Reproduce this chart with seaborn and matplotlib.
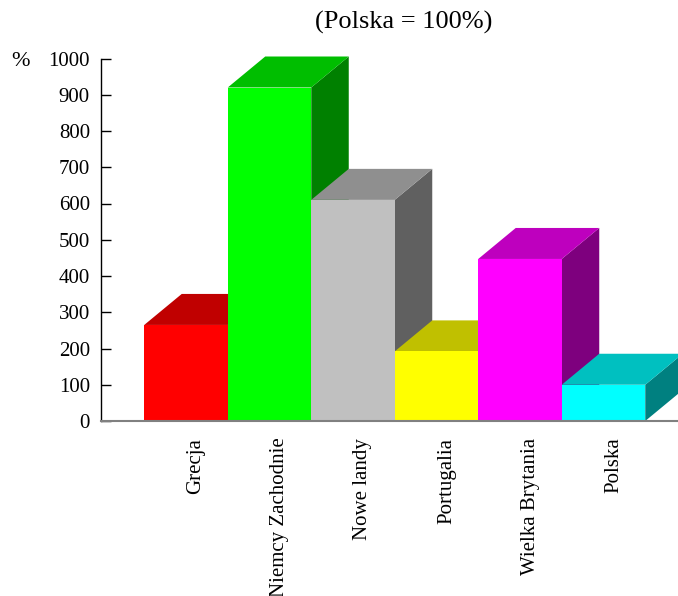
import matplotlib
matplotlib.use("Agg")
import matplotlib.pyplot as plt
from matplotlib.patches import Polygon
import seaborn as sns

# Data
countries = ["Grecja", "Niemcy Zachodnie", "Nowe landy", "Portugalia",
             "Wielka Brytania", "Polska"]
values = [265, 920, 610, 192, 447, 100]
front_colors = ["#FF0000", "#00FF00", "#C0C0C0", "#FFFF00", "#FF00FF", "#00FFFF"]
top_colors = ["#C00000", "#00BE00", "#8F8F8F", "#C0C000", "#BE00BE", "#00C0C0"]
side_colors = ["#800000", "#008000", "#606060", "#808000", "#7E007E", "#008080"]
yticks = [0, 100, 200, 300, 400, 500, 600, 700, 800, 900, 1000]

sns.set_theme(style="white")
plt.rcParams["font.family"] = ["Liberation Serif", "DejaVu Serif"]
plt.rcParams["text.color"] = "black"
plt.rcParams["xtick.labelcolor"] = "black"
plt.rcParams["ytick.labelcolor"] = "black"

W, H = 678, 596
fig = plt.figure(figsize=(W / 100, H / 100), dpi=100)
ax_left, ax_right, ax_bottom, ax_top = 101, 678, 421, 58.5
ax = fig.add_axes([ax_left / W, 1 - ax_bottom / H,
                   (ax_right - ax_left) / W, (ax_bottom - ax_top) / H])

# front faces
sns.barplot(x=countries, y=values, hue=countries, palette=front_colors,
            width=1.0, saturation=1, legend=False, ax=ax, zorder=3,
            linewidth=0)

px_per_x = 83.5
xmin = (ax_left - 186) / px_per_x
xmax = (ax_right - 186) / px_per_x
ax.set_xlim(xmin, xmax)
ax.set_ylim(0, 1000)

# 3D depth: offsets expressed in data units
dx = 37.5 / px_per_x
dy = 31 / ((ax_bottom - ax_top) / 1000)

for i, v in enumerate(values):
    l, r = i - 0.5, i + 0.5
    side = Polygon([(r, 0), (r + dx, dy), (r + dx, v + dy), (r, v)],
                   closed=True, facecolor=side_colors[i], edgecolor="none",
                   zorder=2, clip_on=False)
    top = Polygon([(l, v), (l + dx, v + dy), (r + dx, v + dy), (r, v)],
                  closed=True, facecolor=top_colors[i], edgecolor="none",
                  zorder=2.5, clip_on=False)
    ax.add_patch(side)
    ax.add_patch(top)

# axes styling
for s in ["top", "right"]:
    ax.spines[s].set_visible(False)
ax.spines["left"].set_color("black")
ax.spines["left"].set_linewidth(1.0)
ax.spines["bottom"].set_color("#808080")
ax.spines["bottom"].set_linewidth(1.5)
ax.spines["bottom"].set_zorder(4)

ax.set_yticks(yticks)
ax.set_yticklabels([str(t) for t in yticks], fontsize=15, color="black")
ax.tick_params(axis="y", direction="in", length=7, width=1, color="black",
               pad=8, left=True)

label_shift = 10 / px_per_x
ax.set_xticks([i + label_shift for i in range(len(countries))])
ax.set_xticklabels(countries, rotation=90, fontsize=15, va="top", ha="center",
                   color="black")
ax.tick_params(axis="x", length=0, pad=12)
ax.set_xlabel("")
ax.set_ylabel("")
ax.grid(False)

fig.text(404 / W, 1 - 22 / H, "(Polska = 100%)", fontsize=19,
         ha="center", va="center", color="black")
fig.text(20 / W, 1 - 62 / H, "%", fontsize=16, ha="center", va="center",
         color="black")

fig.savefig("out.png", dpi=100)
